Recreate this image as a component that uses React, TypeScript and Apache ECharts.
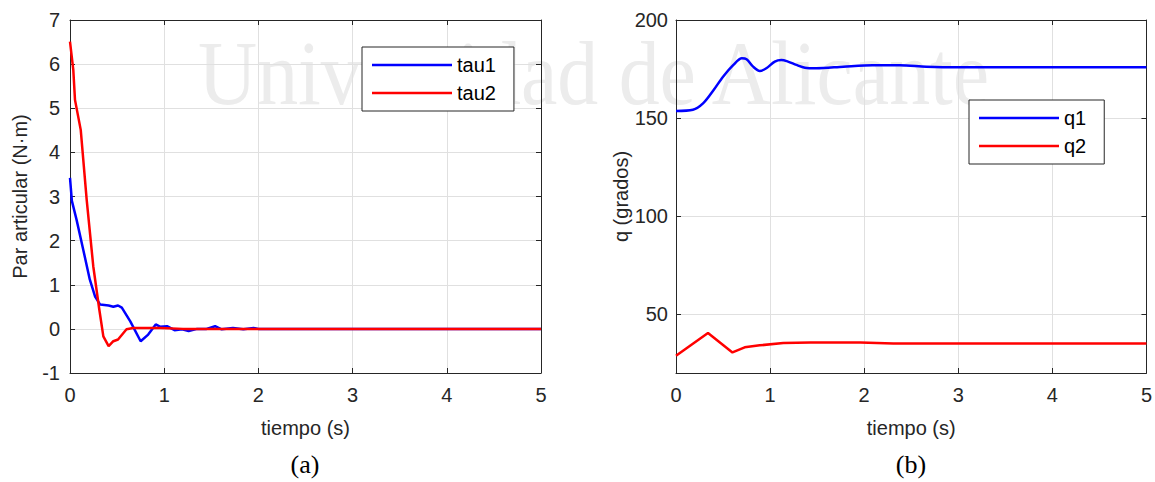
import React, { useEffect, useRef } from "react";
import * as echarts from "echarts";

// ---- Data ----
const tau1T = [0, 0.02, 0.07, 0.14, 0.21, 0.265, 0.32, 0.41, 0.46, 0.51, 0.55, 0.64, 0.75, 0.83, 0.91, 0.955, 1.03, 1.11, 1.19, 1.26, 1.35, 1.45, 1.54, 1.61, 1.73, 1.84, 1.95, 2.0, 5.0];
const tau1V = [3.42, 2.9, 2.47, 1.8, 1.12, 0.74, 0.55, 0.53, 0.5, 0.53, 0.48, 0.17, -0.28, -0.13, 0.1, 0.05, 0.06, -0.03, -0.01, -0.05, 0.0, 0.0, 0.06, -0.01, 0.02, -0.01, 0.02, 0.0, 0.0];

const tau2T = [0, 0.035, 0.053, 0.114, 0.177, 0.247, 0.311, 0.354, 0.41, 0.46, 0.51, 0.6, 0.67, 0.96, 1.2, 5.0];
const tau2V = [6.51, 5.87, 5.19, 4.51, 2.93, 1.42, 0.44, -0.17, -0.39, -0.28, -0.24, -0.01, 0.02, 0.02, 0.0, 0.0];

const q1T = [0, 0.18, 0.29, 0.4, 0.5, 0.61, 0.7, 0.75, 0.82, 0.89, 0.96, 1.05, 1.12, 1.19, 1.28, 1.37, 1.49, 1.78, 2.09, 2.38, 2.66, 3.01, 5.0];
const q1V = [153.6, 154.2, 157.6, 164.3, 171.1, 177.1, 180.5, 180.0, 176.2, 174.0, 175.4, 178.8, 179.6, 178.8, 177.1, 175.7, 175.4, 176.2, 176.9, 176.9, 176.2, 175.9, 175.9];

const q2T = [0, 0.34, 0.6, 0.73, 0.89, 1.14, 1.43, 1.96, 2.31, 5.0];
const q2V = [28.8, 40.4, 30.5, 33.1, 34.1, 35.3, 35.6, 35.6, 35.1, 35.1];

const rightYTicks = [50, 100, 150, 200];

const leftTitle = "Par articular (N·m)";
const rightTitle = "q (grados)";
const xTitle = "tiempo (s)";

const zip = (t: number[], v: number[]) => t.map((x, i) => [x, v[i]]);

const FONT = "Liberation Sans";
const TXT = "#262626";
const FS = 20;
const LW = 2.5;

export default function App() {
  const ref = useRef<HTMLDivElement>(null);

  useEffect(() => {
    if (!ref.current) return;
    const chart = echarts.init(ref.current, undefined, { renderer: "svg" });

    const baseX = (gridIndex: number, top: boolean) => ({
      type: "value",
      gridIndex,
      position: top ? "top" : "bottom",
      min: 0,
      max: 5,
      interval: 1,
      name: top ? "" : xTitle,
      nameLocation: "middle",
      nameGap: 45,
      nameTextStyle: { fontFamily: FONT, fontSize: FS, color: TXT },
      axisLine: { show: true, onZero: false, lineStyle: { color: TXT, width: 1 } },
      axisTick: { show: true, inside: true, length: 5, lineStyle: { color: TXT } },
      axisLabel: { show: !top, margin: 12, fontFamily: FONT, fontSize: FS, color: TXT },
      splitLine: { show: !top, lineStyle: { color: "#e0e0e0", width: 1 } },
    });

    const leftY = (right: boolean) => ({
      type: "value",
      gridIndex: 0,
      position: right ? "right" : "left",
      min: -1,
      max: 7,
      interval: 1,
      name: right ? "" : leftTitle,
      nameLocation: "middle",
      nameGap: 40,
      nameTextStyle: { fontFamily: FONT, fontSize: FS, color: TXT },
      axisLine: { show: true, onZero: false, lineStyle: { color: TXT, width: 1 } },
      axisTick: { show: true, inside: true, length: 5, lineStyle: { color: TXT } },
      axisLabel: { show: !right, margin: 10, fontFamily: FONT, fontSize: FS, color: TXT },
      splitLine: { show: !right, lineStyle: { color: "#e0e0e0", width: 1 } },
    });

    const rightY = (right: boolean) => ({
      type: "value",
      gridIndex: 1,
      position: right ? "right" : "left",
      min: 20,
      max: 200,
      name: right ? "" : rightTitle,
      nameLocation: "middle",
      nameGap: 41,
      nameTextStyle: { fontFamily: FONT, fontSize: FS, color: TXT },
      axisLine: { show: true, onZero: false, lineStyle: { color: TXT, width: 1 } },
      axisTick: { show: true, inside: true, length: 5, lineStyle: { color: TXT }, customValues: rightYTicks },
      axisLabel: { show: !right, margin: 8, fontFamily: FONT, fontSize: FS, color: TXT, customValues: rightYTicks },
      splitLine: { show: !right, lineStyle: { color: "#e0e0e0", width: 1 } },
    });

    const legendBase = {
      orient: "vertical",
      backgroundColor: "#ffffff",
      borderColor: TXT,
      borderWidth: 1,
      itemWidth: 80,
      itemHeight: 20,
      itemGap: 8,
      textStyle: { fontFamily: FONT, fontSize: FS, color: "#000" },
      icon: "path://M0,8.7 L80,8.7 L80,11.3 L0,11.3 Z",
    };

    const lineSeries = (name: string, color: string, xi: number, yi: number, data: number[][], smooth: number | boolean) => ({
      name,
      type: "line",
      xAxisIndex: xi,
      yAxisIndex: yi,
      data,
      smooth,
      symbol: "none",
      lineStyle: { color, width: LW },
      itemStyle: { color },
      z: 3,
    });

    chart.setOption({
      animation: false,
      backgroundColor: "#ffffff",
      grid: [
        { left: 70, top: 20, width: 471, height: 353, containLabel: false },
        { left: 676, top: 20, width: 471, height: 353, containLabel: false },
      ],
      xAxis: [baseX(0, false), baseX(0, true), baseX(1, false), baseX(1, true)],
      yAxis: [leftY(false), leftY(true), rightY(false), rightY(true)],
      legend: [
        { ...legendBase, left: 362, top: 47, padding: [8, 18, 8, 10], data: ["tau1", "tau2"] },
        { ...legendBase, left: 969, top: 100, padding: [8, 18, 8, 10], data: ["q1", "q2"] },
      ],
      graphic: [
        {
          type: "text",
          x: 198,
          y: 27,
          z: -10,
          scaleX: 0.89,
          silent: true,
          style: {
            text: "Universidad de Alicante",
            fontFamily: "Liberation Serif",
            fontSize: 92,
            fill: "#ececec",
            verticalAlign: "top",
          },
        },
        {
          type: "text",
          x: 305,
          y: 464,
          style: {
            text: "(a)",
            fontFamily: "Liberation Serif",
            fontSize: 26,
            fill: "#000",
            align: "center",
            verticalAlign: "middle",
          },
        },
        {
          type: "text",
          x: 911,
          y: 464,
          style: {
            text: "(b)",
            fontFamily: "Liberation Serif",
            fontSize: 26,
            fill: "#000",
            align: "center",
            verticalAlign: "middle",
          },
        },
      ],
      series: [
        lineSeries("tau1", "#0000ff", 0, 0, zip(tau1T, tau1V), false),
        lineSeries("tau2", "#ff0000", 0, 0, zip(tau2T, tau2V), false),
        lineSeries("q1", "#0000ff", 2, 2, zip(q1T, q1V), 0.3),
        lineSeries("q2", "#ff0000", 2, 2, zip(q2T, q2V), false),
      ],
    });

    return () => chart.dispose();
  }, []);

  return (
    <div
      ref={ref}
      style={{ position: "fixed", left: 0, top: 0, width: 1155, height: 482, background: "#fff" }}
    />
  );
}
